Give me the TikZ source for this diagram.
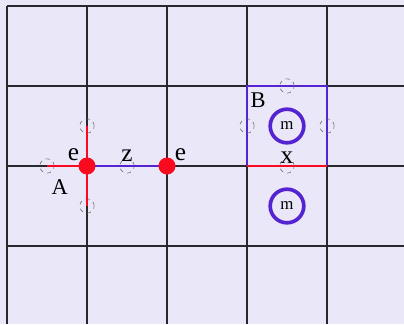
\documentclass[tikz,border=0pt]{standalone}
\usepackage{fontspec}
\setmainfont{Liberation Serif}
\usetikzlibrary{positioning, calc}

\definecolor{bgcol}{RGB}{234,232,248}
\definecolor{gridcol}{RGB}{40,40,45}
\definecolor{linkred}{RGB}{250,10,30}
\definecolor{linkpurple}{RGB}{85,35,210}

\begin{document}
\begin{tikzpicture}[
    grid_line/.style={gridcol, line width=0.9pt},
    red_link/.style={linkred, line width=1.5pt},
    purple_link/.style={linkpurple, line width=1.8pt},
    site/.style={circle, fill=linkred, inner sep=0pt, minimum size=0.42cm},
    port/.style={circle, draw=gray!80!black, dashed, thin, inner sep=0pt, minimum size=0.36cm},
    mass/.style={circle, draw=linkpurple, line width=2.6pt, inner sep=0pt, minimum size=0.84cm, font=\fontsize{12}{14}\selectfont},
    label_font/.style={font=\fontsize{16}{18}\selectfont, inner sep=1pt},
    small_label/.style={font=\fontsize{18}{20}\selectfont, inner sep=1pt}
]

% 1. 배경과 격자
\useasboundingbox[fill=bgcol] (-0.175,0.05) rectangle (9.925,8.15);
\foreach \x in {0,2,4,6,8}
    \draw[grid_line] (\x,0.05) -- (\x,8);
\foreach \y in {2,4,6,8}
    \draw[grid_line] (0,\y) -- (9.925,\y);

% 2. 왼쪽 사이트 A와 연결
\node[site] (A) at (2,4) {};
\node[site] (E) at (4,4) {};
\node[port] (A_left) at (1,4) {};
\node[port] (A_up) at (2,5) {};
\node[port] (A_down) at (2,3) {};
\node[port] (A_mid) at (3,4) {};

\draw[red_link] (A_left.center) -- (A.center);
\draw[red_link] (A_up.center) -- (A_down.center);
\draw[purple_link] (A.center) -- (E.center);
\node[site] at (A) {};
\node[site] at (E) {};

\node[small_label, above left=-2pt and 0pt of A] (e_left) {e};
\node[small_label, above right=-2pt and 0pt of E] (e_right) {e};
\node[small_label, above=-3pt of A_mid] (z_lbl) {z};
\node[label_font, below left=0.15cm and 0.28cm of A] (A_lbl) {A};

% 3. 오른쪽 플라켓 B
\coordinate (B_sw) at (6,4);
\coordinate (B_se) at (8,4);
\coordinate (B_ne) at (8,6);
\coordinate (B_nw) at (6,6);
\draw[linkpurple, line width=1.2pt] (B_sw) -- (B_nw) -- (B_ne) -- (B_se);
\draw[red_link] (B_sw) -- (B_se);

\node[port] (B_up) at (7,6) {};
\node[port] (B_left) at (6,5) {};
\node[port] (B_right) at (8,5) {};
\node[port] (B_down) at (7,4) {};

\node[mass] (m_up) at (7,5) {m};
\node[mass] (m_down) at (7,3) {m};

\node[label_font, below right=0.12cm and 0.05cm of B_nw] (B_lbl) {B};
\node[small_label, above=-5pt of B_down] (x_lbl) {x};

\end{tikzpicture}
\end{document}
